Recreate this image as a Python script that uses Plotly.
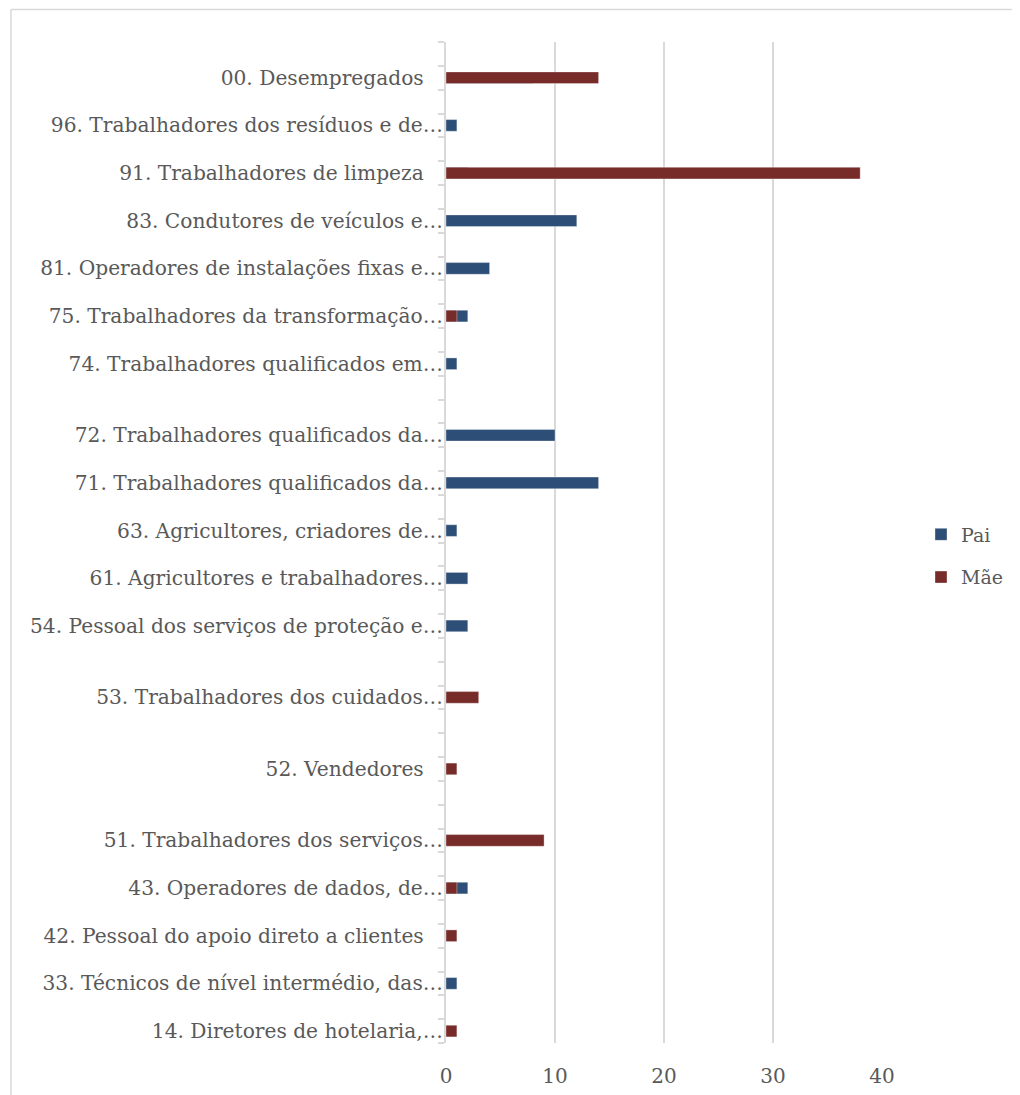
import plotly.graph_objects as go

# Categories from bottom to top, blank rows kept as in the source sheet
categories = [
    "14. Diretores de hotelaria,…", "",
    "33. Técnicos de nível intermédio, das…", "",
    "42. Pessoal do apoio direto a clientes\u00a0\u00a0\u00a0", "",
    "43. Operadores de dados, de…", "",
    "51. Trabalhadores dos serviços…", "", "",
    "52. Vendedores\u00a0\u00a0\u00a0", "", "",
    "53. Trabalhadores dos cuidados…", "", "",
    "54. Pessoal dos serviços de proteção e…", "",
    "61. Agricultores e trabalhadores…", "",
    "63. Agricultores, criadores de…", "",
    "71. Trabalhadores qualificados da…", "",
    "72. Trabalhadores qualificados da…", "", "",
    "74. Trabalhadores qualificados em…", "",
    "75. Trabalhadores da transformação…", "",
    "81. Operadores de instalações fixas e…", "",
    "83. Condutores de veículos e…", "",
    "91. Trabalhadores de limpeza\u00a0\u00a0\u00a0", "",
    "96. Trabalhadores dos resíduos e de…", "",
    "00. Desempregados\u00a0\u00a0\u00a0", "",
]

pai = [
    None, None, 1, None, None, None, 2, None,
    None, None, None, None, None, None, None, None, None,
    2, None, 2, None, 1, None, 14, None, 10, None, None,
    1, None, 2, None, 4, None, 12, None, 2, None, 1, None, 8, None,
]

mae = [
    1, None, None, None, 1, None, 1, None,
    9, None, None, 1, None, None, 3, None, None,
    None, None, None, None, None, None, None, None, None, None, None,
    None, None, 1, None, None, None, None, None, 38, None, None, None, 14, None,
]

x_ticks = [0, 10, 20, 30, 40]

# Layout constants (pixels); page body adds an 8px offset
OFF = 8
W, H = 1020 - OFF, 1095 - OFF
PW, PH = 437, 1001
L, T = 446 - OFF, 42 - OFF
R, B = W - L - PW, H - T - PH
GREY = "#595959"
LINE = "#d9d9d9"
FONT = "Georgia, 'DejaVu Serif', serif"


def px_x(px):
    return (px - OFF - L) / PW


def px_y(py):
    return 1 - (py - OFF - T) / PH


pos = list(range(len(categories)))
tickvals = [i for i, c in enumerate(categories) if c]
ticktext = [c for c in categories if c]

fig = go.Figure()
fig.add_trace(go.Bar(y=pos, x=pai, orientation="h", name="Pai",
                     marker=dict(color="#2D4E76", line=dict(color="rgba(255,255,255,0.35)", width=1)),
                     legendgroup="pai"))
fig.add_trace(go.Bar(y=pos, x=mae, orientation="h", name="Mãe",
                     marker=dict(color="#772C2A", line=dict(color="rgba(255,255,255,0.35)", width=1)),
                     legendgroup="mae"))

# chart area border: only top and left edges are inside the picture
border = dict(color=LINE, width=1.5)
fig.update_layout(
    width=W, height=H,
    margin=dict(l=L, r=R, t=T, b=B),
    paper_bgcolor="white", plot_bgcolor="white",
    barmode="overlay", bargap=0.51,
    font=dict(family=FONT, size=20, color=GREY),
    legend=dict(x=px_x(921), y=px_y(556), xanchor="left", yanchor="middle",
                font=dict(family=FONT, size=19, color=GREY),
                traceorder="grouped", tracegroupgap=15, bgcolor="rgba(0,0,0,0)"),
    shapes=[
        dict(type="line", xref="paper", yref="paper", x0=px_x(10), x1=px_x(1030),
             y0=px_y(9.5), y1=px_y(9.5), line=border, layer="below"),
        dict(type="line", xref="paper", yref="paper", x0=px_x(10), x1=px_x(10),
             y0=px_y(9.5), y1=px_y(1110), line=border, layer="below"),
    ],
)

fig.update_xaxes(
    range=[0, 40], tickvals=x_ticks, showgrid=True, gridcolor=LINE, gridwidth=1.5,
    zeroline=False, showline=False, ticks="", ticklabelstandoff=19,
    tickfont=dict(family=FONT, size=20, color=GREY), automargin=False,
)

fig.update_yaxes(
    range=[-0.5, len(categories) - 0.5], tickmode="array", tickvals=tickvals, ticktext=ticktext,
    showgrid=False, zeroline=False, showline=True, linecolor=LINE, linewidth=2, ticks="",
    ticklabelstandoff=-3,
    minor=dict(tickmode="linear", tick0=-0.5, dtick=1, ticks="outside", ticklen=6,
               tickcolor=LINE, tickwidth=2, showgrid=False),
    tickfont=dict(family=FONT, size=20.2, color=GREY), automargin=False,
)

fig.write_html("out.html")
